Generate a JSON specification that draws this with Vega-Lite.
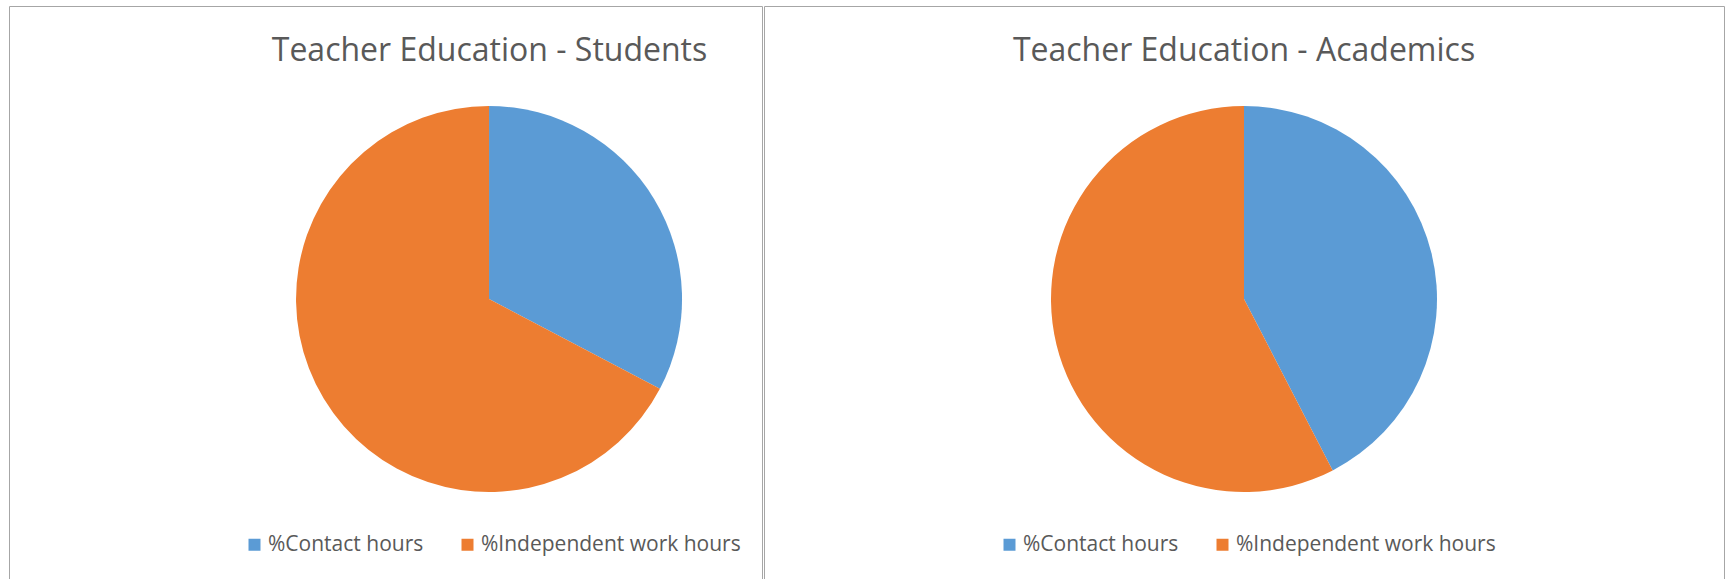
{
  "$schema": "https://vega.github.io/schema/vega-lite/v6.json",
  "autosize": {"type": "pad"},
  "padding": {"left": 8, "top": 5, "right": 0, "bottom": 0},
  "background": "white",
  "spacing": 0,
  "config": {
    "font": "Open Sans",
    "view": {"stroke": "#a6a6a6", "strokeWidth": 1},
    "title": {"fontSize": 32, "fontWeight": "normal", "color": "#595959", "font": "Open Sans", "anchor": "middle", "frame": "group", "baseline": "alphabetic", "offset": -62},
    "legend": {
      "orient": "none", "legendX": 235, "legendY": 528, "direction": "horizontal", "title": null,
      "symbolType": "square", "symbolSize": 144, "symbolStrokeWidth": 0,
      "labelFontSize": 21, "labelColor": "#595959", "labelFont": "Open Sans",
      "labelOffset": 3, "columnPadding": 33, "labelLimit": 400
    }
  },
  "datasets": {
    "students": [
      {"chart": "Students", "category": "%Contact hours", "share": 32.7},
      {"chart": "Students", "category": "%Independent work hours", "share": 67.3}
    ],
    "academics": [
      {"chart": "Academics", "category": "%Contact hours", "share": 42.4},
      {"chart": "Academics", "category": "%Independent work hours", "share": 57.6}
    ]
  },
  "resolve": {
    "scale": {"color": "independent", "x": "independent", "theta": "independent"},
    "legend": {"color": "independent"}
  },
  "hconcat": [
    {
      "width": 753,
      "height": 586,
      "data": {"name": "students"},
      "title": {"text": "Teacher Education - Students", "dx": 104},
      "mark": {"type": "arc", "outerRadius": 193},
      "encoding": {
        "theta": {"field": "share", "type": "quantitative", "stack": true},
        "order": {"field": "category", "type": "nominal"},
        "x": {"field": "chart", "type": "nominal", "scale": {"type": "point", "align": 0.6375}, "axis": null},
        "color": {
          "field": "category", "type": "nominal",
          "scale": {"domain": ["%Contact hours", "%Independent work hours"], "range": ["#5B9BD5", "#ED7D31"]}
        }
      }
    },
    {
      "width": 960,
      "height": 586,
      "data": {"name": "academics"},
      "title": {"text": "Teacher Education - Academics"},
      "mark": {"type": "arc", "outerRadius": 193},
      "encoding": {
        "theta": {"field": "share", "type": "quantitative", "stack": true},
        "order": {"field": "category", "type": "nominal"},
        "x": {"field": "chart", "type": "nominal", "scale": {"type": "point", "align": 0.5}, "axis": null},
        "color": {
          "field": "category", "type": "nominal",
          "scale": {"domain": ["%Contact hours", "%Independent work hours"], "range": ["#5B9BD5", "#ED7D31"]}
        }
      }
    }
  ]
}
